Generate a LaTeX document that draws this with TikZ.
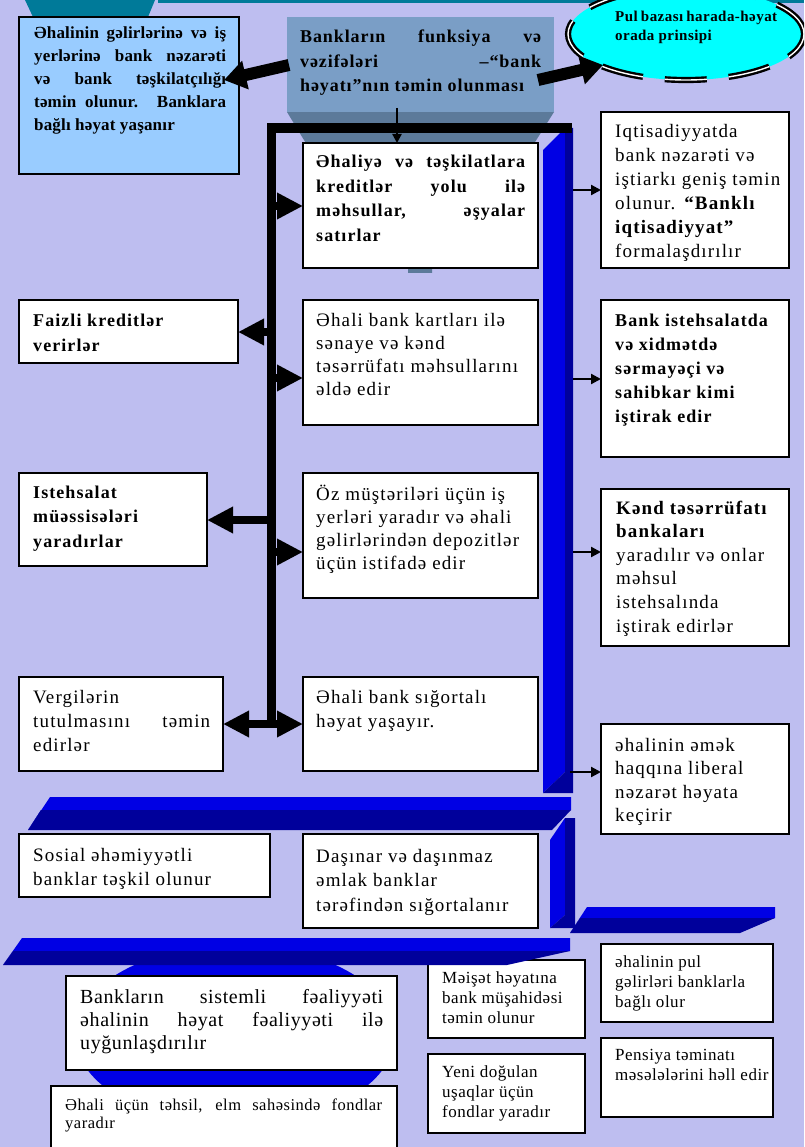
\documentclass[tikz,border=0pt]{standalone}
\usepackage{fontspec}
\setmainfont[LetterSpace=6]{Liberation Serif}
\newfontfamily\lsone[LetterSpace=1]{Liberation Serif}
\newfontfamily\lsthree[LetterSpace=3]{Liberation Serif}
\newfontfamily\lsfive[LetterSpace=5]{Liberation Serif}
\usetikzlibrary{arrows.meta,shapes.geometric}
\definecolor{bgc}{RGB}{190,190,240}
\definecolor{tealc}{RGB}{0,122,153}
\definecolor{lblue}{RGB}{153,204,255}
\definecolor{funtop}{RGB}{122,158,198}
\definecolor{fundark}{RGB}{92,122,154}
\definecolor{cyanc}{RGB}{0,255,255}
\definecolor{bbright}{RGB}{0,0,228}
\definecolor{bdark}{RGB}{0,0,155}
\newcommand{\J}[1]{\makebox[\linewidth][s]{#1}\par}
\newcommand{\tx}[4]{\parbox[t]{#1}{\raggedright\fontsize{#2}{#3}\selectfont #4}}
\begin{document}
\begin{tikzpicture}[x=1pt,y=-1pt,
  box/.style={draw=black,line width=1.3pt,fill=white,anchor=north west,inner sep=0pt,outer sep=0pt},
  txt/.style={anchor=base west,inner sep=0pt},
  fat/.style={line width=8pt,-{Triangle[length=26pt,width=25pt]}},
  fatdbl/.style={line width=8pt,{Triangle[length=26pt,width=25pt]}-{Triangle[length=26pt,width=25pt]}},
  thinarr/.style={line width=2.2pt,-{Triangle[length=10pt,width=10pt]}},
  blk/.style={line width=12pt,-{Triangle[length=22pt,width=28pt]}},
  bbr/.style={fill=bbright},
  bdk/.style={fill=bdark}]
\useasboundingbox (0,0) rectangle (804,1147);
\clip (0,0) rectangle (804,1147);
\fill[bgc] (0,0) rectangle (804,1147);
% top teal pieces
\fill[tealc] (25,0)--(155,0)--(148,17)--(33,17)--cycle;
\fill[tealc] (158,0) rectangle (804,3);
% cyan ellipse
\node[ellipse,fill=cyanc,draw=black,line width=2.4pt,double=white,double distance=1.4pt,
      dash pattern=on 42pt off 22pt,minimum width=236pt,minimum height=92pt,inner sep=0pt] (PB) at (686,34) {};
\node[txt] (tPB) at (615,22) {\tx{162pt}{15}{19}{\lsthree\bfseries\J{Pul bazası harada-həyat}orada prinsipi}};
% left light blue box
\node[box,fill=lblue,minimum width=220pt,minimum height=157pt] (LB) at (19,17) {};
\node[txt] (tLB) at (34,39) {\tx{192pt}{17}{22.8}{\lsone\bfseries\J{Əhalinin gəlirlərinə və iş}\J{yerlərinə bank nəzarəti}\J{və bank təşkilatçılığı}\J{təmin olunur. Banklara}bağlı həyat yaşanır}};
% funnel
\fill[fundark] (287,112)--(554,112)--(530,150)--(432,250)--(432,273)--(408,273)--(408,250)--(310,150)--cycle;
\node[fill=funtop,anchor=north west,inner sep=0pt,minimum width=267pt,minimum height=95pt] (CB) at (287,17) {};
\node[txt] (tCB) at (300,43) {\tx{241pt}{18}{24.5}{\lsfive\bfseries\J{Bankların funksiya və}\J{vəzifələri –“bank}həyatı”nın təmin olunması}};
% right vertical blue bar
\fill[bbr] (543,150)--(565,128)--(565,772)--(543,793)--cycle;
\fill[bdk] (565,128)--(573,128)--(573,793)--(543,793)--(565,772)--cycle;
% black frame
\draw[line width=9.5pt,miter limit=10] (572,128)--(271.5,128)--(271.5,724);
% boxes
\node[box,minimum width=235pt,minimum height=125pt] (B1) at (303,143) {};
\node[box,minimum width=235pt,minimum height=125pt] (B2) at (303,300) {};
\node[box,minimum width=235pt,minimum height=125pt] (B3) at (303,473) {};
\node[box,minimum width=235pt,minimum height=94pt] (B4) at (303,677) {};
\node[box,minimum width=219pt,minimum height=63pt] (L1) at (19,300) {};
\node[box,minimum width=188pt,minimum height=93pt] (L2) at (19,473) {};
\node[box,minimum width=204pt,minimum height=94pt] (L3) at (19,677) {};
\node[box,minimum width=188pt,minimum height=156pt] (R1) at (601,112) {};
\node[box,minimum width=188pt,minimum height=157pt] (R2) at (601,300) {};
\node[box,minimum width=188pt,minimum height=157pt] (R3) at (601,489) {};
\node[box,minimum width=188pt,minimum height=110pt] (R4) at (601,724) {};
\node[box,minimum width=251pt,minimum height=63pt] (S1) at (19,834) {};
\node[box,minimum width=235pt,minimum height=94pt] (S2) at (303,834) {};
% texts
\node[txt] (tB1) at (316,168) {\tx{209pt}{18}{24.5}{\bfseries\J{Əhaliyə və təşkilatlara}\J{kreditlər yolu ilə}\J{məhsullar, əşyalar}satırlar}};
\node[txt] (tB2) at (316,326) {\tx{400pt}{19}{23}{Əhali bank kartları ilə\\sənaye və kənd\\təsərrüfatı məhsullarını\\əldə edir}};
\node[txt] (tB3) at (316,500) {\tx{400pt}{19}{23.3}{Öz müştəriləri üçün iş\\yerləri yaradır və əhali\\gəlirlərindən depozitlər\\üçün istifadə edir}};
\node[txt] (tB4) at (316,703) {\tx{400pt}{19}{24}{Əhali bank sığortalı\\həyat yaşayır.}};
\node[txt] (tL1) at (33,326) {\tx{400pt}{18}{25}{\bfseries Faizli kreditlər\\verirlər}};
\node[txt] (tL2) at (33,498) {\tx{400pt}{18}{24.5}{\bfseries Istehsalat\\müəssisələri\\yaradırlar}};
\node[txt] (tL3) at (33,703) {\tx{177pt}{19}{24}{Vergilərin\par\J{tutulmasını təmin}edirlər}};
\node[txt] (tR1) at (615,138) {\tx{400pt}{19}{24}{Iqtisadiyyatda\\bank nəzarəti və\\iştiarkı geniş təmin\\olunur. \textbf{“Banklı}\\\textbf{iqtisadiyyat”}\\formalaşdırılır}};
\node[txt] (tR2) at (615,326) {\tx{400pt}{18}{24}{\bfseries Bank istehsalatda\\və xidmətdə\\sərmayəçi və\\sahibkar kimi\\iştirak edir}};
\node[txt] (tR3) at (616,514) {\tx{400pt}{19}{23.6}{\textbf{Kənd təsərrüfatı}\\\textbf{bankaları}\\yaradılır və onlar\\məhsul\\istehsalında\\iştirak edirlər}};
\node[txt] (tR4) at (615,751) {\tx{400pt}{19}{23.5}{əhalinin əmək\\haqqına liberal\\nəzarət həyata\\keçirir}};
\node[txt] (tS1) at (33,861) {\tx{400pt}{19}{24}{Sosial əhəmiyyətli\\banklar təşkil olunur}};
\node[txt] (tS2) at (316,862) {\tx{400pt}{19}{24.5}{Daşınar və daşınmaz\\əmlak banklar\\tərəfindən sığortalanır}};
% down arrow
\coordinate (dA) at (397,108);
\draw[line width=2.5pt,-{Triangle[length=9pt,width=9pt]}] (dA) -- (dA |- B1.north);
% fat arrows from frame
\coordinate (f1) at (271.5,206);
\coordinate (f2) at (271.5,332);
\coordinate (f3) at (271.5,378);
\coordinate (f4) at (271.5,520);
\coordinate (f5) at (271.5,552);
\coordinate (f6) at (271.5,724);
\draw[fat] (f1) -- (f1 -| B1.west);
\draw[fat] (f2) -- (f2 -| L1.east);
\draw[fat] (f3) -- (f3 -| B2.west);
\draw[fat] (f4) -- (f4 -| L2.east);
\draw[fat] (f5) -- (f5 -| B3.west);
\draw[fatdbl] (f6 -| L3.east) -- (f6 -| B4.west);
% thin arrows from blue bar
\coordinate (r1) at (573,190);
\coordinate (r2) at (573,379);
\coordinate (r3) at (573,552);
\coordinate (r4) at (570,772);
\draw[thinarr] (r1) -- (r1 -| R1.west);
\draw[thinarr] (r2) -- (r2 -| R2.west);
\draw[thinarr] (r3) -- (r3 -| R3.west);
\draw[thinarr] (r4) -- (r4 -| R4.west);
% block arrows
\coordinate (ba1) at (289,65);
\coordinate (ba1e) at (224,80);
\coordinate (ba2) at (538,80);
\coordinate (ba2e) at (603,65);
\draw[blk] (ba1) -- (ba1e);
\draw[blk] (ba2) -- (ba2e);
% beams
\fill[bbr] (28,830)--(50,797)--(571,797)--(571,810)--(41,810)--cycle;
\fill[bdk] (41,810)--(571,810)--(552,830)--(28,830)--cycle;
\fill[bbr] (550,840)--(565,818)--(565,915)--(550,928)--cycle;
\fill[bdk] (565,818)--(575,818)--(575,928)--(550,928)--(565,915)--cycle;
\fill[bbr] (570,933)--(587,907)--(775,907)--(775,918)--(580,918)--cycle;
\fill[bdk] (580,918)--(775,918)--(740,933)--(570,933)--cycle;
% blue ellipse behind bottom box
\fill[bbright] (235,1035) ellipse [x radius=160, y radius=90];
% bottom boxes
\node[box,minimum width=331pt,minimum height=94pt] (BS) at (66,976) {};
\node[box,minimum width=346pt,minimum height=74pt] (BE) at (51,1086) {};
\node[box,minimum width=157pt,minimum height=78pt] (M1) at (428,960) {};
\node[box,minimum width=157pt,minimum height=79pt] (M2) at (428,1054) {};
\node[box,minimum width=172pt,minimum height=78pt] (P1) at (601,944) {};
\node[box,minimum width=172pt,minimum height=79pt] (P2) at (601,1038) {};
\node[txt] (tBS) at (80,1003) {\tx{303pt}{20}{23}{\lsthree\J{Bankların sistemli fəaliyyəti}\J{əhalinin həyat fəaliyyəti ilə}uyğunlaşdırılır}};
\node[txt] (tBE) at (65,1110) {\tx{317pt}{16.5}{18.5}{\lsthree\J{Əhali üçün təhsil, elm sahəsində fondlar}yaradır}};
\node[txt] (tM1) at (442,983) {\tx{400pt}{17}{20}{\lsthree Məişət həyatına\\bank müşahidəsi\\təmin olunur}};
\node[txt] (tM2) at (442,1077) {\tx{400pt}{17}{20}{\lsthree Yeni doğulan\\uşaqlar üçün\\fondlar yaradır}};
\node[txt] (tP1) at (615,967) {\tx{400pt}{17}{20}{\lsthree əhalinin pul\\gəlirləri banklarla\\bağlı olur}};
\node[txt] (tP2) at (615,1060) {\tx{400pt}{17}{20}{\lsthree Pensiya təminatı\\məsələlərini həll edir}};
% bottom beam
\fill[bbr] (3,965)--(22,938)--(570,938)--(570,951)--(13,951)--cycle;
\fill[bdk] (13,951)--(570,951)--(507,965)--(3,965)--cycle;
\end{tikzpicture}
\end{document}
